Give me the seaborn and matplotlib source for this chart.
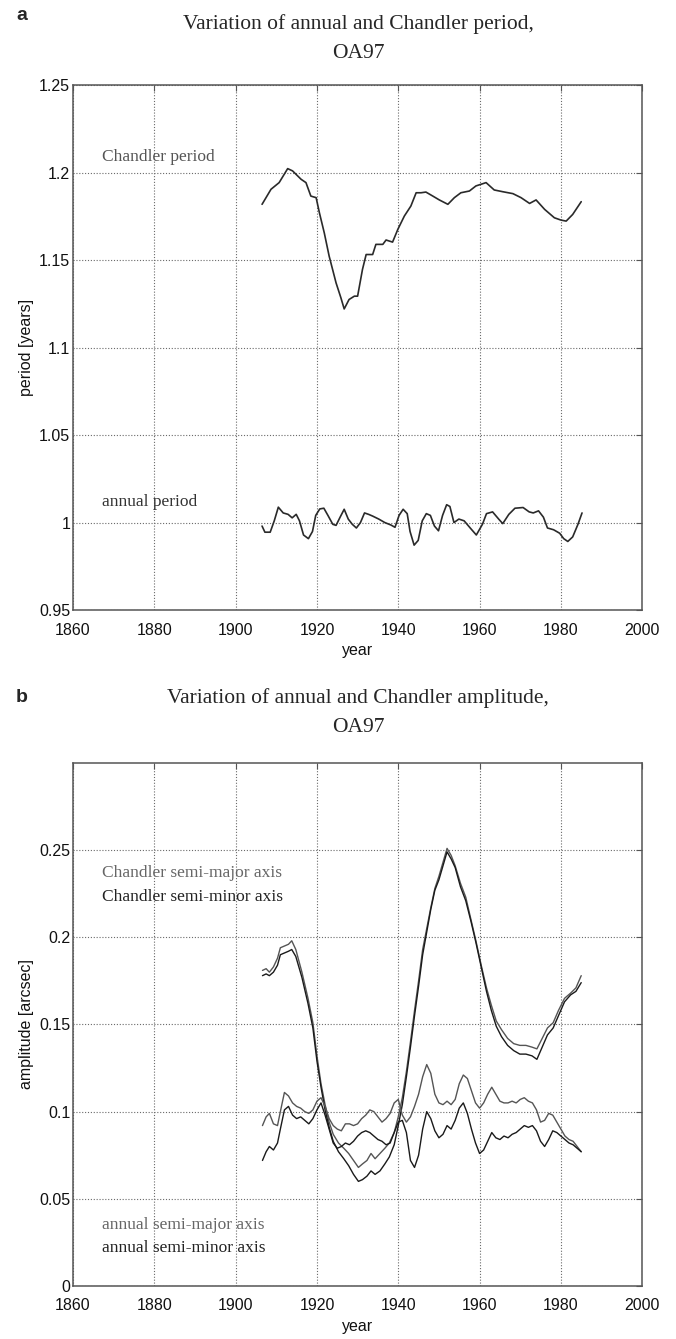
import matplotlib
matplotlib.use("Agg")
import matplotlib.pyplot as plt
import seaborn as sns
import numpy as np
from matplotlib.ticker import FuncFormatter

# ---------------- data ----------------
chandler_period_year = [1906.5, 1908.7, 1910.7, 1912.8, 1914.0, 1916.1, 1917.3, 1918.5, 1919.8, 1920.6,
                        1921.8, 1923.0, 1924.7, 1925.9, 1926.7, 1927.9, 1929.2, 1930.0, 1931.2, 1932.1,
                        1933.7, 1934.5, 1936.2, 1937.0, 1938.6, 1939.9, 1941.5, 1943.1, 1944.4, 1945.6,
                        1946.8, 1948.5, 1950.1, 1952.2, 1953.8, 1955.4, 1957.5, 1959.1, 1961.6, 1963.6,
                        1965.7, 1968.2, 1970.2, 1972.3, 1973.9, 1976.0, 1978.4, 1980.0, 1981.3, 1982.9,
                        1985.0]
chandler_period = [1.1819, 1.1905, 1.1943, 1.2023, 1.2010, 1.1962, 1.1943, 1.1866, 1.1857, 1.1771,
                   1.1656, 1.1523, 1.1370, 1.1284, 1.1221, 1.1275, 1.1294, 1.1294, 1.1447, 1.1532,
                   1.1532, 1.1590, 1.1590, 1.1615, 1.1603, 1.1676, 1.1752, 1.1809, 1.1885, 1.1885,
                   1.1889, 1.1866, 1.1844, 1.1819, 1.1857, 1.1885, 1.1895, 1.1924, 1.1943, 1.1901,
                   1.1891, 1.1880, 1.1857, 1.1824, 1.1844, 1.1790, 1.1742, 1.1729, 1.1723, 1.1761,
                   1.1834]

annual_period_year = [1906.5, 1907.2, 1908.5, 1909.5, 1910.5, 1911.7, 1912.9, 1913.9, 1914.9, 1915.7,
                      1916.7, 1917.9, 1918.9, 1919.7, 1920.7, 1921.7, 1922.7, 1923.9, 1924.7, 1925.7,
                      1926.7, 1927.7, 1928.7, 1929.7, 1930.7, 1931.7, 1932.7, 1933.7, 1935.2, 1936.7,
                      1938.2, 1939.2, 1940.2, 1941.2, 1942.2, 1942.9, 1943.9, 1944.9, 1945.9, 1946.9,
                      1947.9, 1948.9, 1949.9, 1950.9, 1951.9, 1952.7, 1953.7, 1954.9, 1956.2, 1957.7,
                      1959.2, 1960.7, 1961.7, 1963.2, 1964.7, 1965.7, 1967.2, 1968.7, 1970.7, 1972.2,
                      1973.2, 1974.5, 1975.7, 1976.7, 1978.2, 1979.7, 1980.7, 1981.7, 1982.9, 1984.2,
                      1985.2]
annual_period = [0.9980, 0.9945, 0.9945, 1.0010, 1.0088, 1.0055, 1.0047, 1.0027, 1.0047, 1.0010,
                 0.9929, 0.9908, 0.9949, 1.0041, 1.0078, 1.0082, 1.0041, 0.9990, 0.9984, 1.0031,
                 1.0076, 1.0020, 0.9990, 0.9969, 1.0000, 1.0055, 1.0047, 1.0037, 1.0020, 1.0000,
                 0.9986, 0.9973, 1.0041, 1.0076, 1.0051, 0.9949, 0.9871, 0.9898, 1.0010, 1.0051,
                 1.0041, 0.9980, 0.9953, 1.0041, 1.0102, 1.0092, 1.0000, 1.0020, 1.0010, 0.9969,
                 0.9929, 0.9990, 1.0051, 1.0061, 1.0020, 0.9994, 1.0047, 1.0082, 1.0086, 1.0061,
                 1.0055, 1.0067, 1.0031, 0.9969, 0.9959, 0.9939, 0.9908, 0.9892, 0.9918, 0.9990,
                 1.0055]

chandler_amp_year = [1906.6, 1907.5, 1908.3, 1909.3, 1910.3, 1911.0, 1912.0, 1913.0, 1913.8, 1914.8,
                     1916.3, 1917.8, 1919.0, 1920.0, 1921.0, 1922.0, 1923.0, 1924.0, 1925.3, 1926.6,
                     1927.8, 1929.0, 1930.2, 1931.2, 1932.3, 1933.3, 1934.3, 1935.5, 1936.7, 1937.8,
                     1939.0, 1940.0, 1941.0, 1942.0, 1943.0, 1944.0, 1945.0, 1946.0, 1947.0, 1948.0,
                     1949.0, 1950.0, 1951.0, 1952.0, 1953.0, 1954.0, 1955.3, 1956.6, 1957.9, 1959.1,
                     1960.4, 1961.7, 1962.9, 1964.1, 1965.4, 1966.9, 1968.4, 1969.9, 1971.4, 1972.9,
                     1974.1, 1975.4, 1976.7, 1978.1, 1979.4, 1980.9, 1982.4, 1983.7, 1985.0]
chandler_major = [0.181, 0.182, 0.180, 0.183, 0.188, 0.194, 0.195, 0.196, 0.198, 0.193,
                  0.180, 0.165, 0.151, 0.132, 0.116, 0.104, 0.094, 0.087, 0.082, 0.079,
                  0.076, 0.072, 0.068, 0.070, 0.072, 0.076, 0.073, 0.076, 0.079, 0.082,
                  0.088, 0.097, 0.108, 0.123, 0.140, 0.158, 0.175, 0.193, 0.205, 0.217,
                  0.228, 0.235, 0.243, 0.251, 0.247, 0.241, 0.231, 0.223, 0.210, 0.198,
                  0.184, 0.171, 0.161, 0.152, 0.147, 0.142, 0.139, 0.138, 0.138, 0.137,
                  0.136, 0.142, 0.148, 0.151, 0.158, 0.165, 0.168, 0.171, 0.178]
chandler_minor = [0.178, 0.179, 0.178, 0.180, 0.184, 0.190, 0.191, 0.192, 0.193, 0.189,
                  0.177, 0.162, 0.148, 0.129, 0.114, 0.101, 0.091, 0.083, 0.077, 0.073,
                  0.069, 0.064, 0.060, 0.061, 0.063, 0.066, 0.064, 0.066, 0.070, 0.074,
                  0.081, 0.092, 0.104, 0.120, 0.137, 0.155, 0.172, 0.190, 0.203, 0.216,
                  0.227, 0.233, 0.241, 0.249, 0.245, 0.240, 0.229, 0.221, 0.209, 0.197,
                  0.183, 0.169, 0.158, 0.149, 0.143, 0.138, 0.135, 0.133, 0.133, 0.132,
                  0.130, 0.137, 0.144, 0.148, 0.155, 0.163, 0.167, 0.169, 0.174]

annual_amp_year = [1906.6, 1907.5, 1908.3, 1909.3, 1910.3,
                   1911, 1912, 1913, 1914, 1915, 1916, 1917, 1918, 1919, 1920,
                   1921, 1922, 1923, 1924, 1925, 1926, 1927, 1928, 1929, 1930,
                   1931, 1932, 1933, 1934, 1935, 1936, 1937, 1938, 1939, 1940,
                   1941, 1942, 1943, 1944, 1945, 1946, 1947, 1948, 1949, 1950,
                   1951, 1952, 1953, 1954, 1955, 1956, 1957, 1958, 1959, 1960,
                   1961, 1962, 1963, 1964, 1965, 1966, 1967, 1968, 1969, 1970,
                   1971, 1972, 1973, 1974, 1975, 1976, 1977, 1978, 1979, 1980,
                   1981, 1982, 1983, 1984, 1985]
annual_major = [0.092, 0.097, 0.099, 0.093, 0.092,
                0.100, 0.111, 0.109, 0.105, 0.103, 0.102, 0.100, 0.099, 0.101, 0.106,
                0.108, 0.103, 0.096, 0.092, 0.090, 0.089, 0.093, 0.093, 0.092, 0.093,
                0.096, 0.098, 0.101, 0.100, 0.097, 0.094, 0.096, 0.099, 0.105, 0.107,
                0.098, 0.094, 0.097, 0.103, 0.110, 0.120, 0.127, 0.122, 0.110, 0.105,
                0.104, 0.106, 0.104, 0.107, 0.116, 0.121, 0.119, 0.112, 0.105, 0.102,
                0.105, 0.110, 0.114, 0.110, 0.106, 0.105, 0.105, 0.106, 0.105, 0.107,
                0.108, 0.106, 0.105, 0.101, 0.094, 0.095, 0.099, 0.098, 0.094, 0.090,
                0.086, 0.084, 0.083, 0.080, 0.077]
annual_minor = [0.072, 0.077, 0.080, 0.078, 0.082,
                0.090, 0.101, 0.103, 0.098, 0.096, 0.097, 0.095, 0.093, 0.096, 0.101,
                0.105, 0.098, 0.090, 0.082, 0.079, 0.080, 0.082, 0.081, 0.083, 0.086,
                0.088, 0.089, 0.088, 0.086, 0.084, 0.083, 0.081, 0.082, 0.088, 0.094,
                0.095, 0.088, 0.072, 0.068, 0.075, 0.090, 0.100, 0.096, 0.089, 0.085,
                0.087, 0.092, 0.090, 0.095, 0.102, 0.105, 0.099, 0.090, 0.082, 0.076,
                0.078, 0.083, 0.088, 0.085, 0.084, 0.086, 0.085, 0.087, 0.088, 0.090,
                0.092, 0.091, 0.092, 0.089, 0.083, 0.080, 0.084, 0.089, 0.088, 0.086,
                0.084, 0.082, 0.081, 0.079, 0.077]

year_ticks = [1860, 1880, 1900, 1920, 1940, 1960, 1980, 2000]
period_ticks = [0.95, 1.0, 1.05, 1.1, 1.15, 1.2, 1.25]
amp_ticks = [0, 0.05, 0.1, 0.15, 0.2, 0.25]

# ---------------- style ----------------
sns.set_style("white")
plt.rcParams['font.family'] = ['Liberation Sans', 'DejaVu Sans']

SERIF = ['Liberation Serif', 'DejaVu Serif']

fig = plt.figure(figsize=(6.76, 13.39), dpi=100)
ax1 = fig.add_axes([0.108, 0.5444, 0.842, 0.392])
ax2 = fig.add_axes([0.108, 0.0396, 0.842, 0.3906])

gfmt = FuncFormatter(lambda v, p: ('%g' % round(v, 4)))


def style_axes(ax, yticks, ylim, ylabel):
    ax.set_xlim(1860, 2000)
    ax.set_ylim(*ylim)
    ax.set_xticks(year_ticks)
    ax.set_yticks(yticks)
    ax.yaxis.set_major_formatter(gfmt)
    ax.grid(True, linestyle=(0, (1, 1.6)), color='#6a6a6a', linewidth=0.8)
    for s in ax.spines.values():
        s.set_color('#555555')
        s.set_linewidth(1.1)
        s.set_visible(True)
    ax.tick_params(direction='in', length=4, width=0.8, color='#555555',
                   top=True, right=True, labelsize=11.5, labelcolor='#111111')
    ax.tick_params(axis='x', pad=9)
    ax.tick_params(axis='y', pad=2)
    ax.set_xlabel('year', fontsize=11.5, labelpad=4, color='#111111')
    ax.set_ylabel(ylabel, fontsize=11.5, labelpad=4, color='#111111')


# ---- panel a ----
sns.lineplot(x=chandler_period_year, y=chandler_period, ax=ax1, color='#2a2a2a', lw=1.2, estimator=None)
sns.lineplot(x=annual_period_year, y=annual_period, ax=ax1, color='#2a2a2a', lw=1.2, estimator=None)
style_axes(ax1, period_ticks, (0.95, 1.25), 'period [years]')
ax1.text(1867.2, 1.2088, 'Chandler period', family=SERIF, fontsize=12.5, color='#555555', va='center')
ax1.text(1867.2, 1.0118, 'annual period', family=SERIF, fontsize=12.5, color='#333333', va='center')

# ---- panel b ----
sns.lineplot(x=chandler_amp_year, y=chandler_major, ax=ax2, color='#555555', lw=1.0, estimator=None)
sns.lineplot(x=chandler_amp_year, y=chandler_minor, ax=ax2, color='#1a1a1a', lw=1.0, estimator=None)
sns.lineplot(x=annual_amp_year, y=annual_major, ax=ax2, color='#555555', lw=1.0, estimator=None)
sns.lineplot(x=annual_amp_year, y=annual_minor, ax=ax2, color='#1a1a1a', lw=1.0, estimator=None)
style_axes(ax2, amp_ticks, (0, 0.3), 'amplitude [arcsec]')
ax2.text(1867.2, 0.2368, 'Chandler semi-major axis', family=SERIF, fontsize=12.5, color='#666666', va='center')
ax2.text(1867.2, 0.2232, 'Chandler semi-minor axis', family=SERIF, fontsize=12.5, color='#222222', va='center')
ax2.text(1867.2, 0.0351, 'annual semi-major axis', family=SERIF, fontsize=12.5, color='#666666', va='center')
ax2.text(1867.2, 0.0219, 'annual semi-minor axis', family=SERIF, fontsize=12.5, color='#222222', va='center')

# ---- titles and panel letters ----
fig.text(16 / 676, 1 - 16 / 1339, 'a', fontsize=14, fontweight='bold', ha='left', va='center')
fig.text(0.53, 1 - 24 / 1339, 'Variation of annual and Chandler period,', family=SERIF,
         fontsize=15.5, ha='center', va='center')
fig.text(0.53, 1 - 53 / 1339, 'OA97', family=SERIF, fontsize=15.5, ha='center', va='center')

fig.text(16 / 676, 1 - 698 / 1339, 'b', fontsize=14, fontweight='bold', ha='left', va='center')
fig.text(0.53, 1 - 698 / 1339, 'Variation of annual and Chandler amplitude,', family=SERIF,
         fontsize=15.5, ha='center', va='center')
fig.text(0.53, 1 - 727 / 1339, 'OA97', family=SERIF, fontsize=15.5, ha='center', va='center')

fig.savefig('out.png', dpi=100)
